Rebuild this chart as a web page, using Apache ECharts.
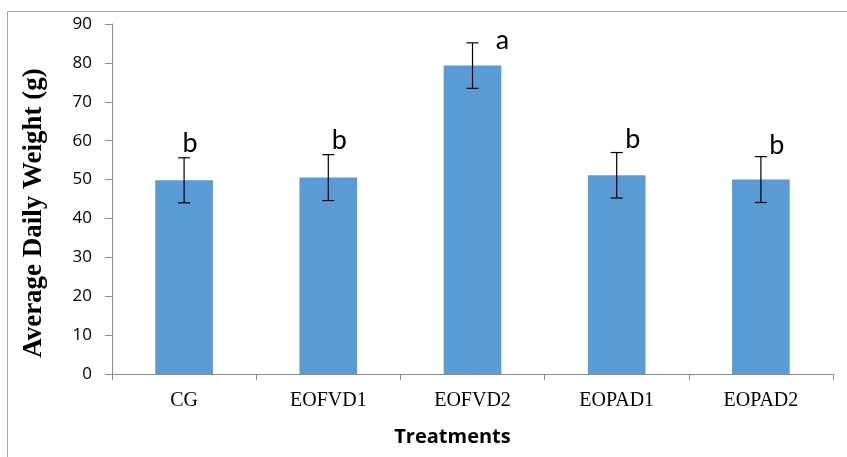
<!DOCTYPE html>
<html>
<head>
<meta charset="utf-8">
<script src="https://cdn.jsdelivr.net/npm/echarts@6/dist/echarts.min.js"></script>
<style>html,body{margin:0;padding:0;background:#fff;}#c{width:847px;height:457px;}</style>
</head>
<body>
<div id="c"></div>
<script>
const categories = ['CG', 'EOFVD1', 'EOFVD2', 'EOPAD1', 'EOPAD2'];
const values = [49.8, 50.5, 79.3, 51.1, 50.0];
const errors = [5.8, 5.9, 5.85, 5.85, 5.9];
const letters = ['b', 'b', 'a', 'b', 'b'];
const yTicks = [0, 10, 20, 30, 40, 50, 60, 70, 80, 90];

// label placement (style): horizontal shift from bar centre, baseline shift from error top
const letterDx = [6, 11, 30, 16, 16];
const letterDy = [-1, -1, 11, 0, 2];

const chart = echarts.init(document.getElementById('c'), null, {renderer: 'canvas'});
chart.setOption({
  animation: false,
  backgroundColor: '#fff',
  graphic: [{
    type: 'rect', silent: true, z: -1,
    shape: {x: 7.5, y: 11.5, width: 900, height: 500},
    style: {fill: 'none', stroke: '#a6a6a6', lineWidth: 1}
  }],
  grid: {left: 112, right: 14, top: 24, bottom: 83},
  xAxis: {
    type: 'category',
    data: categories,
    name: 'Treatments',
    nameLocation: 'middle',
    nameGap: 53,
    nameTextStyle: {fontFamily: 'Open Sans', fontWeight: 'bold', fontSize: 20, color: '#000', padding: [0, 40, 0, 0]},
    axisLine: {lineStyle: {color: '#8c8c8c', width: 1}},
    axisTick: {show: true, length: 6, lineStyle: {color: '#8c8c8c'}},
    axisLabel: {fontFamily: 'Liberation Serif', fontSize: 20, color: '#000', margin: 17}
  },
  yAxis: {
    type: 'value',
    min: 0, max: 90, interval: 10,
    name: 'Average Daily Weight (g)',
    nameLocation: 'middle',
    nameGap: 64,
    nameTextStyle: {fontFamily: 'Liberation Serif', fontWeight: 'bold', fontSize: 27, color: '#000', padding: [0, 28, 0, 0]},
    axisLine: {show: true, lineStyle: {color: '#8c8c8c', width: 1}},
    axisTick: {show: true, length: 7, lineStyle: {color: '#8c8c8c'}},
    axisLabel: {fontFamily: 'Open Sans', fontSize: 17, color: '#000', margin: 20,
      formatter: v => yTicks.indexOf(v) >= 0 ? String(v) : ''},
    splitLine: {show: false}
  },
  series: [{
    type: 'bar',
    data: values,
    barWidth: '40%',
    itemStyle: {color: '#5B9BD5'}
  }, {
    type: 'custom',
    data: values.map((v, i) => [i, v, errors[i]]),
    renderItem: function (params, api) {
      const i = api.value(0);
      const v = api.value(1);
      const e = api.value(2);
      const top = api.coord([i, v + e]);
      const bot = api.coord([i, v - e]);
      const cap = 6;
      return {
        type: 'group',
        children: [
          {type: 'line', shape: {x1: top[0], y1: top[1], x2: bot[0], y2: bot[1]}, style: {stroke: '#000', lineWidth: 1.2}},
          {type: 'line', shape: {x1: top[0] - cap, y1: top[1], x2: top[0] + cap, y2: top[1]}, style: {stroke: '#000', lineWidth: 1.2}},
          {type: 'line', shape: {x1: bot[0] - cap, y1: bot[1], x2: bot[0] + cap, y2: bot[1]}, style: {stroke: '#000', lineWidth: 1.2}},
          {type: 'text', style: {
            text: letters[i], x: top[0] + letterDx[i], y: top[1] + letterDy[i],
            textAlign: 'center', textVerticalAlign: 'bottom',
            font: '27px Lato', fill: '#000'
          }}
        ]
      };
    },
    z: 5
  }]
});
</script>
</body>
</html>
